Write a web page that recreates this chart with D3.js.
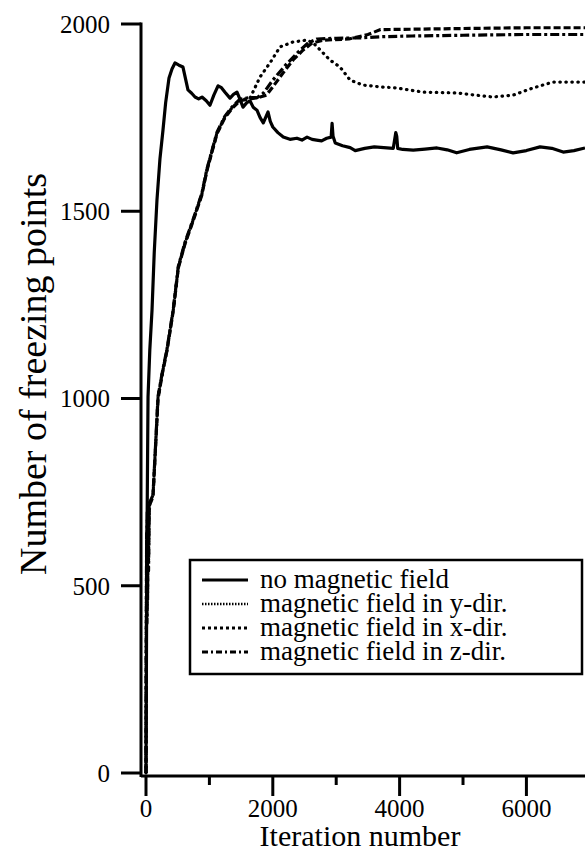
<!DOCTYPE html>
<html>
<head>
<meta charset="utf-8">
<script src="https://cdn.jsdelivr.net/npm/d3@7"></script>
<style>
    body { margin: 0; background: #fff; }
    svg { display: block; }
    text { font-family: "Liberation Serif", "Times New Roman", serif; fill: #000; }
    .line { fill: none; stroke: #000; stroke-width: 3.2; stroke-linejoin: round; }
</style>
</head>
<body>
<div id="chart"></div>
<script>
// tick values
var xMajorTicks = [0, 2000, 4000, 6000];
var xMinorTicks = [1000, 3000, 5000];
var yTicks = [0, 500, 1000, 1500, 2000];

// no magnetic field
var noFieldIter = [0, 8, 15, 22, 32, 60, 95, 130, 173, 220, 268, 310, 363, 410, 457, 520, 583, 662, 720, 773,
    830, 883, 950, 1009, 1070, 1136, 1190, 1246, 1325, 1380, 1435, 1480, 1530, 1590, 1640, 1690, 1750, 1800,
    1850, 1925, 1960, 2000, 2080, 2165, 2270, 2380, 2460, 2540, 2620, 2690, 2770, 2850, 2920, 2935, 2950,
    2985, 3100, 3220, 3300, 3450, 3600, 3750, 3900, 3940, 3955, 3970, 4050, 4215, 4400, 4590, 4750, 4900,
    5100, 5380, 5600, 5790, 6000, 6215, 6400, 6580, 6750, 6924];
var noFieldVal = [0, 350, 600, 780, 1004, 1130, 1236, 1390, 1530, 1640, 1717, 1790, 1856, 1880, 1896, 1890, 1885, 1824, 1815, 1805,
    1800, 1805, 1795, 1783, 1810, 1835, 1830, 1818, 1802, 1812, 1818, 1800, 1778, 1790, 1795, 1778, 1770, 1750,
    1736, 1765, 1740, 1725, 1710, 1698, 1692, 1695, 1690, 1698, 1692, 1690, 1688, 1695, 1698, 1735, 1700,
    1682, 1675, 1670, 1662, 1668, 1672, 1670, 1668, 1710, 1700, 1668, 1665, 1663, 1666, 1669, 1664, 1656,
    1665, 1672, 1664, 1656, 1662, 1672, 1668, 1658, 1662, 1669];

// magnetic field in y-dir.
var yDirIter = [0, 5, 10, 15, 20, 25, 30, 40, 50, 63, 110, 150, 190, 260, 330, 430, 510, 615, 745, 880, 960,
    1040, 1120, 1245, 1355, 1480, 1640, 1800, 1955, 2115, 2320, 2540, 2640, 2780, 2900, 3060, 3220, 3420,
    3700, 3960, 4370, 4900, 5200, 5470, 5790, 6100, 6420, 6924];
var yDirVal = [0, 360, 620, 420, 680, 480, 700, 560, 710, 721, 740, 870, 1004, 1070, 1129, 1236, 1351, 1415, 1477, 1545, 1610,
    1660, 1709, 1752, 1776, 1797, 1802, 1859, 1896, 1939, 1952, 1957, 1949, 1925, 1904, 1885, 1850, 1837,
    1832, 1829, 1818, 1816, 1810, 1805, 1810, 1829, 1845, 1845];

// magnetic field in x-dir.
var xDirIter = [0, 5, 10, 15, 20, 25, 30, 40, 50, 63, 110, 150, 190, 260, 330, 430, 510, 615, 745, 880, 960,
    1040, 1120, 1245, 1355, 1480, 1640, 1800, 1900, 2000, 2160, 2320, 2475, 2620, 2800, 3200, 3500, 3700,
    4200, 5000, 6000, 6924];
var xDirVal = [0, 380, 600, 440, 660, 500, 690, 580, 700, 718, 738, 868, 1000, 1068, 1127, 1234, 1349, 1413, 1475, 1543, 1608,
    1658, 1707, 1750, 1774, 1795, 1800, 1805, 1810, 1832, 1869, 1904, 1930, 1949, 1957, 1960, 1972, 1985,
    1986, 1988, 1990, 1990];

// magnetic field in z-dir.
var zDirIter = [0, 5, 10, 15, 20, 25, 30, 40, 50, 63, 110, 150, 190, 260, 330, 430, 510, 615, 745, 880, 960,
    1040, 1120, 1245, 1355, 1480, 1640, 1750, 1850, 2000, 2200, 2400, 2560, 2700, 3000, 3400, 3700, 4200,
    5000, 6000, 6924];
var zDirVal = [0, 340, 640, 400, 700, 460, 710, 540, 720, 724, 742, 872, 1006, 1072, 1131, 1238, 1353, 1417, 1479, 1547, 1612,
    1662, 1711, 1754, 1778, 1799, 1804, 1803, 1815, 1850, 1890, 1925, 1950, 1960, 1962, 1963, 1966, 1968,
    1970, 1972, 1972];

var legendLabels = ["no magnetic field", "magnetic field in y-dir.", "magnetic field in x-dir.", "magnetic field in z-dir."];

var width = 585;
var height = 854;

var svg = d3.select("#chart").append("svg")
    .attr("width", width)
    .attr("height", height);

var x = d3.scaleLinear().domain([0, 6924]).range([146, 585]);
var y = d3.scaleLinear().domain([0, 2000]).range([773, 24]);

var axisX = 141;
var axisY = 776;

// y axis
svg.append("line")
    .attr("x1", axisX).attr("x2", axisX)
    .attr("y1", y(2000) - 1.5).attr("y2", axisY + 1)
    .attr("stroke", "#000").attr("stroke-width", 3);

svg.selectAll(".ytick")
    .data(yTicks)
    .enter()
    .append("line")
    .attr("class", "ytick")
    .attr("x1", axisX - 20).attr("x2", axisX)
    .attr("y1", function(d) { return y(d); })
    .attr("y2", function(d) { return y(d); })
    .attr("stroke", "#000").attr("stroke-width", 3);

svg.selectAll(".ylabel")
    .data(yTicks)
    .enter()
    .append("text")
    .attr("class", "ylabel")
    .attr("x", axisX - 31)
    .attr("y", function(d) { return y(d); })
    .attr("dy", "0.35em")
    .attr("text-anchor", "end")
    .attr("font-size", 25)
    .text(function(d) { return d; });

// x axis
svg.append("line")
    .attr("x1", axisX).attr("x2", width)
    .attr("y1", axisY).attr("y2", axisY)
    .attr("stroke", "#000").attr("stroke-width", 3);

svg.selectAll(".xmajor")
    .data(xMajorTicks)
    .enter()
    .append("line")
    .attr("class", "xmajor")
    .attr("x1", function(d) { return x(d); })
    .attr("x2", function(d) { return x(d); })
    .attr("y1", axisY).attr("y2", axisY + 20)
    .attr("stroke", "#000").attr("stroke-width", 3);

svg.selectAll(".xminor")
    .data(xMinorTicks)
    .enter()
    .append("line")
    .attr("class", "xminor")
    .attr("x1", function(d) { return x(d); })
    .attr("x2", function(d) { return x(d); })
    .attr("y1", axisY).attr("y2", axisY + 9)
    .attr("stroke", "#000").attr("stroke-width", 3);

svg.selectAll(".xlabel")
    .data(xMajorTicks)
    .enter()
    .append("text")
    .attr("class", "xlabel")
    .attr("x", function(d) { return x(d); })
    .attr("y", 817)
    .attr("text-anchor", "middle")
    .attr("font-size", 25)
    .text(function(d) { return d; });

// axis titles
svg.append("text")
    .attr("x", 360)
    .attr("y", 846)
    .attr("text-anchor", "middle")
    .attr("font-size", 30)
    .text("Iteration number");

svg.append("text")
    .attr("transform", "translate(46,374) rotate(-90)")
    .attr("text-anchor", "middle")
    .attr("font-size", 38)
    .text("Number of freezing points");

// data lines
var series = [
    { iter: noFieldIter, val: noFieldVal, dash: null, cap: "butt" },
    { iter: yDirIter, val: yDirVal, dash: "0.5,5.5", cap: "round" },
    { iter: xDirIter, val: xDirVal, dash: "7,3", cap: "butt" },
    { iter: zDirIter, val: zDirVal, dash: "9,3,3,3", cap: "butt" }
];

var valueline = d3.line()
    .x(function(d) { return x(d[0]); })
    .y(function(d) { return y(d[1]); });

series.forEach(function(s) {
    var pts = s.iter.map(function(it, i) { return [it, s.val[i]]; });
    svg.append("path")
        .datum(pts)
        .attr("class", "line")
        .attr("stroke-dasharray", s.dash)
        .attr("stroke-linecap", s.cap)
        .attr("d", valueline);
});

// legend
var legend = svg.append("g").attr("transform", "translate(190,560)");

legend.append("rect")
    .attr("x", 0).attr("y", 0)
    .attr("width", 392).attr("height", 114)
    .attr("fill", "#fff")
    .attr("stroke", "#000").attr("stroke-width", 2.5);

var legendDash = [null, "1.5,1.5", "3,3", "6,3,2,3"];

legendLabels.forEach(function(label, i) {
    var ly = 20 + i * 24;
    legend.append("line")
        .attr("x1", 12).attr("x2", 58)
        .attr("y1", ly).attr("y2", ly)
        .attr("stroke", "#000").attr("stroke-width", i == 1 ? 2.5 : 3)
        .attr("stroke-dasharray", legendDash[i]);
    legend.append("text")
        .attr("x", 70)
        .attr("y", ly)
        .attr("dy", "0.3em")
        .attr("font-size", 27)
        .text(label);
});
</script>
</body>
</html>
